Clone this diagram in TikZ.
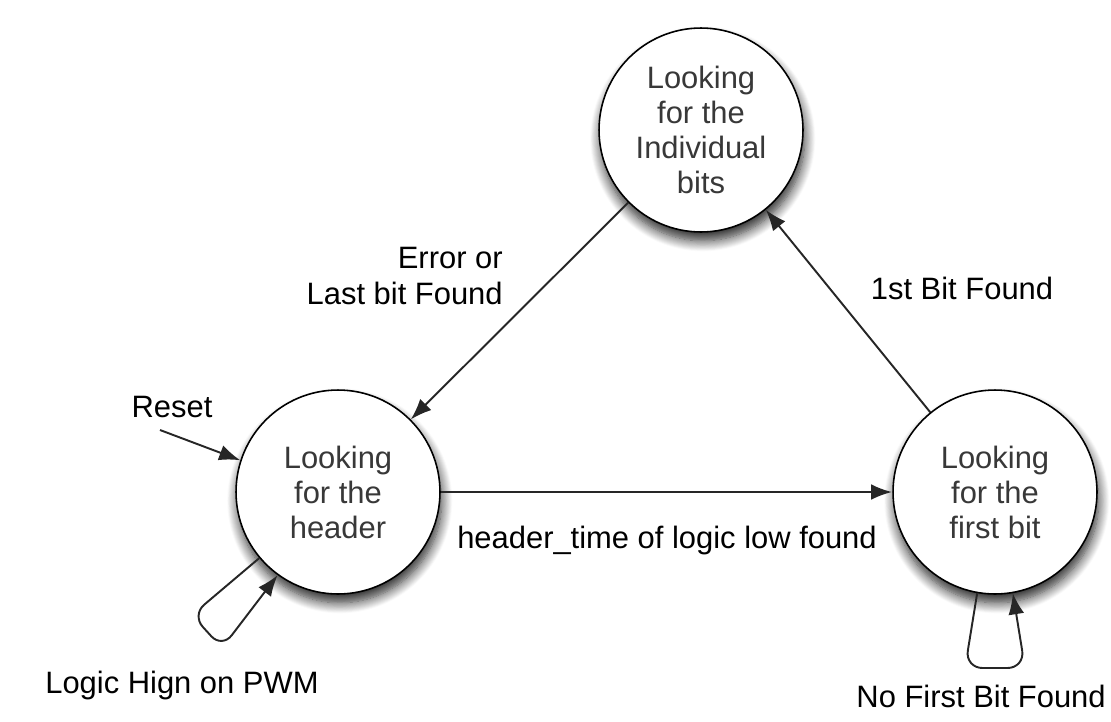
\documentclass[tikz,border=0pt]{standalone}
\usepackage{fontspec}
\setmainfont{Liberation Sans}
\usetikzlibrary{arrows.meta,shadows.blur}

\begin{document}
\begin{tikzpicture}[x=0.02cm, y=-0.02cm,
        state/.style={circle, draw=black, line width=0.9pt, fill=white,
          minimum size=4.08cm, inner sep=0pt, align=center, text=black!78,
          font=\fontsize{17.6}{19.9}\selectfont,
          blur shadow={shadow xshift=1pt, shadow yshift=-5pt,
            shadow blur radius=6pt, shadow blur steps=12, shadow opacity=85}},
        lbl/.style={inner sep=0pt, font=\fontsize{17.6}{20.4}\selectfont},
        tr/.style={draw=black!85, line width=1.1pt,
          -{Latex[length=12pt,width=9pt]}}]
        \useasboundingbox (0,0) rectangle (1111,721);

        % states
        \node[state] (bits) at (701,130) {Looking\\for the\\Individual\\bits};
        \node[state] (hdr) at (338,492) {Looking\\for the\\header};
        \node[state] (fb) at (995,492) {Looking\\for the\\first bit};

        % transitions
        \draw[tr] (bits) -- (hdr);
        \draw[tr] (fb) -- (bits);
        \draw[tr, line width=1.5pt] (hdr) -- (fb);

        \coordinate (rs) at (160,430);
        \draw[tr] (rs) -- (hdr.162);

        \coordinate (hl1) at (192,615);
        \coordinate (hl2) at (222,648);
        \draw[tr, rounded corners=9pt] (hdr.220) -- (hl1) -- (hl2) -- (hdr.234);

        \coordinate (fl1) at (965,668);
        \coordinate (fl2) at (1025,668);
        \draw[tr, rounded corners=10pt] (fb.260) -- (fl1) -- (fl2) -- (fb.280);

        % labels
        \node[lbl, anchor=east, align=right] (err) at (503,276) {Error or\\Last bit Found};
        \node[lbl] (first) at (962,288) {1st Bit Found};
        \node[lbl] (rst) at (172,407) {Reset};
        \node[lbl, anchor=base] (htime) at (667,548) {header\_time of logic low found};
        \node[lbl, anchor=base west] (pwm) at (45,693) {Logic Hign on PWM};
        \node[lbl, anchor=base east] (nofb) at (1106,707) {No First Bit Found};
      \end{tikzpicture}
\end{document}
